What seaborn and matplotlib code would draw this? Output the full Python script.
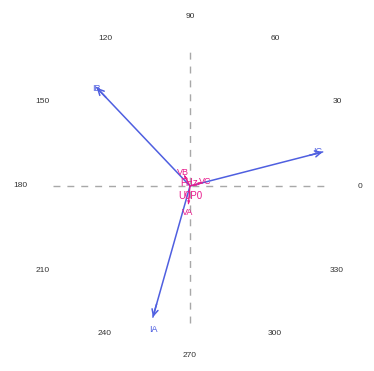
import numpy as np
import pandas as pd
import matplotlib
matplotlib.use("Agg")
import matplotlib.pyplot as plt
import seaborn as sns

# Phasor data (magnitude normalised to full scale, angle in degrees)
current_names = ["IA", "IB", "IC"]
current_mag = [0.995, 0.99, 1.0]
current_ang = [254.2, 133.5, 14.4]

voltage_names = ["VA", "VB", "VC"]
voltage_mag = [0.13, 0.085, 0.085]
voltage_ang = [265.0, 118.0, 16.0]

angle_ticks = list(range(0, 360, 30))

sns.set_theme(style="white")
plt.rcParams["font.family"] = ["Liberation Sans", "DejaVu Sans"]

W, H = 374, 371
cx, cy = 190, 186          # centre of the diagram in pixels from top-left
scale = 137.0              # pixels per unit magnitude

fig = plt.figure(figsize=(W / 100, H / 100), dpi=100)
ax = fig.add_axes([0, 0, 1, 1])
ax.set_xlim(-cx / scale, (W - cx) / scale)
ax.set_ylim(-(H - cy) / scale, cy / scale)
ax.set_axis_off()

cur_color = "#4f5fe0"
volt_color = "#e8198b"


def polar(mag, ang):
    a = np.deg2rad(np.asarray(ang, dtype=float))
    m = np.asarray(mag, dtype=float)
    return m * np.cos(a), m * np.sin(a)


# dashed reference axes
ref = pd.DataFrame({
    "x": [-1.0, 1.0, 0.0, 0.0],
    "y": [0.0, 0.0, -1.0, 1.0],
    "axis": ["h", "h", "v", "v"],
})
sns.lineplot(data=ref, x="x", y="y", units="axis", estimator=None, sort=False,
             color="#a8a8a8", lw=1.0, dashes=False, ax=ax, legend=False)
for line in ax.lines:
    line.set_dashes((5, 5))

# angle labels around the circle
lx, ly = polar([1.24] * len(angle_ticks), angle_ticks)
for a, x, y in zip(angle_ticks, lx, ly):
    ax.text(x, y, str(a), ha="center", va="center", fontsize=6, color="#333333")


def draw_phasors(names, mags, angs, color, lw, head):
    tx, ty = polar(mags, angs)
    seg = pd.DataFrame({
        "x": np.ravel(np.column_stack([np.zeros(len(names)), tx])),
        "y": np.ravel(np.column_stack([np.zeros(len(names)), ty])),
        "name": np.repeat(names, 2),
    })
    sns.lineplot(data=seg, x="x", y="y", units="name", estimator=None, sort=False,
                 color=color, lw=lw, ax=ax, legend=False)
    for x, y in zip(tx, ty):
        ax.annotate("", xy=(x, y), xytext=(x * 0.9, y * 0.9),
                    arrowprops=dict(arrowstyle="->", color=color, lw=lw,
                                    mutation_scale=head, shrinkA=0, shrinkB=0))
    return tx, ty


draw_phasors(current_names, current_mag, current_ang, cur_color, 1.1, 11)
draw_phasors(voltage_names, voltage_mag, voltage_ang, volt_color, 0.9, 3)

# phasor labels
cur_label_pos = {"IA": (-0.265, -1.05), "IB": (-0.685, 0.715), "IC": (0.935, 0.25)}
for n in current_names:
    x, y = cur_label_pos[n]
    ax.text(x, y, n, ha="center", va="center", fontsize=6.5, color=cur_color)

volt_label_pos = {"VA": (-0.015, -0.19), "VB": (-0.05, 0.10), "VC": (0.11, 0.036)}
for n in voltage_names:
    x, y = volt_label_pos[n]
    ax.text(x, y, n, ha="center", va="center", fontsize=6.5, color=volt_color)

# overlapping auxiliary labels at the origin
ax.text(-0.01, 0.02, "FHz", ha="center", va="center", fontsize=7, color=volt_color,
        zorder=5)
ax.text(0.0, -0.075, "U0P0", ha="center", va="center", fontsize=7,
        color=volt_color, zorder=5)

fig.savefig("out.png", dpi=100, facecolor="white")
